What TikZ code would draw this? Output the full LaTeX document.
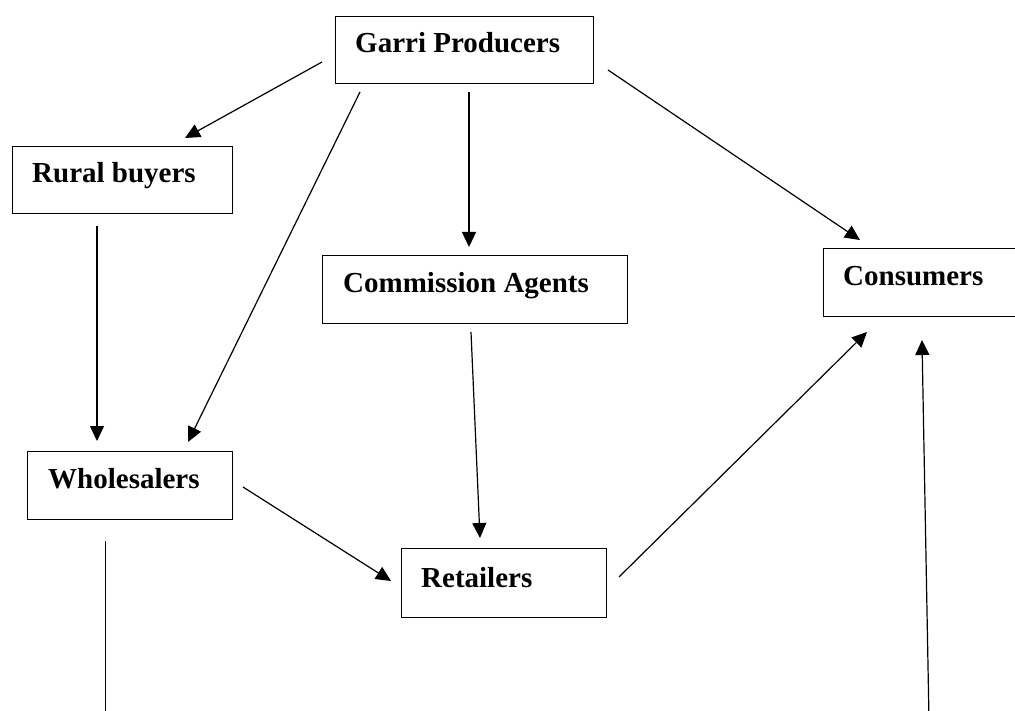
\documentclass[tikz,border=0pt]{standalone}
\usepackage{fontspec}
\setmainfont{Liberation Serif}
\usetikzlibrary{arrows.meta,calc}
\tikzset{
  box/.style={draw, line width=1.2pt, rectangle, anchor=north west, inner sep=0pt},
  lbl/.style={anchor=base west, inner sep=0pt, font=\fontsize{29}{34}\selectfont\bfseries},
  conn/.style={line width=1.2pt, -{Triangle[length=15pt,width=14pt]}},
  plain/.style={line width=1.2pt}
}
\begin{document}
\begin{tikzpicture}[x=1pt,y=-1pt]
\useasboundingbox (0,0) rectangle (1015,711);
\clip (0,0) rectangle (1015,711);
\fill[white] (0,0) rectangle (1015,711);
% boxes
\node[box, minimum width=258, minimum height=67] (gp) at (335,16) {};
\node[lbl] (gpt) at ($(gp.north west)+(20,37)$) {Garri Producers};
\node[box, minimum width=220, minimum height=67] (rb) at (12,146) {};
\node[lbl] (rbt) at ($(rb.north west)+(20,37)$) {Rural buyers};
\node[box, minimum width=305, minimum height=68] (ca) at (322,255) {};
\node[lbl] (cat) at ($(ca.north west)+(21,38)$) {Commission Agents};
\node[box, minimum width=230, minimum height=68] (co) at (823,248) {};
\node[lbl] (cot) at ($(co.north west)+(20,38)$) {Consumers};
\node[box, minimum width=205, minimum height=68] (wh) at (27,451) {};
\node[lbl] (wht) at ($(wh.north west)+(21,37)$) {Wholesalers};
\node[box, minimum width=205, minimum height=69] (re) at (401,548) {};
\node[lbl] (ret) at ($(re.north west)+(20,39)$) {Retailers};
% connector end points
\coordinate (gp-rb-s) at (322,62);   \coordinate (gp-rb-e) at (185,138);
\coordinate (gp-wh-s) at (360,92);   \coordinate (gp-wh-e) at (188,442);
\coordinate (gp-ca-s) at (469,92);   \coordinate (gp-ca-e) at (469,247);
\coordinate (gp-co-s) at (608,70);   \coordinate (gp-co-e) at (860,240);
\coordinate (rb-wh-s) at (97,226);   \coordinate (rb-wh-e) at (97,441);
\coordinate (ca-re-s) at (471,332);  \coordinate (ca-re-e) at (480,538);
\coordinate (wh-re-s) at (243,487);  \coordinate (wh-re-e) at (391,581);
\coordinate (re-co-s) at (619,577);  \coordinate (re-co-e) at (867,332);
\coordinate (wh-dn-s) at (105.5,541); \coordinate (wh-dn-e) at (105.5,720);
\coordinate (up-co-s) at (929,720);  \coordinate (up-co-e) at (922,340);
% connectors
\draw[conn] (gp-rb-s) -- (gp-rb-e);
\draw[conn] (gp-wh-s) -- (gp-wh-e);
\draw[conn] (gp-ca-s) -- (gp-ca-e);
\draw[conn] (gp-co-s) -- (gp-co-e);
\draw[conn] (rb-wh-s) -- (rb-wh-e);
\draw[conn] (ca-re-s) -- (ca-re-e);
\draw[conn] (wh-re-s) -- (wh-re-e);
\draw[conn] (re-co-s) -- (re-co-e);
\draw[plain] (wh-dn-s) -- (wh-dn-e);
\draw[conn] (up-co-s) -- (up-co-e);
\end{tikzpicture}
\end{document}
